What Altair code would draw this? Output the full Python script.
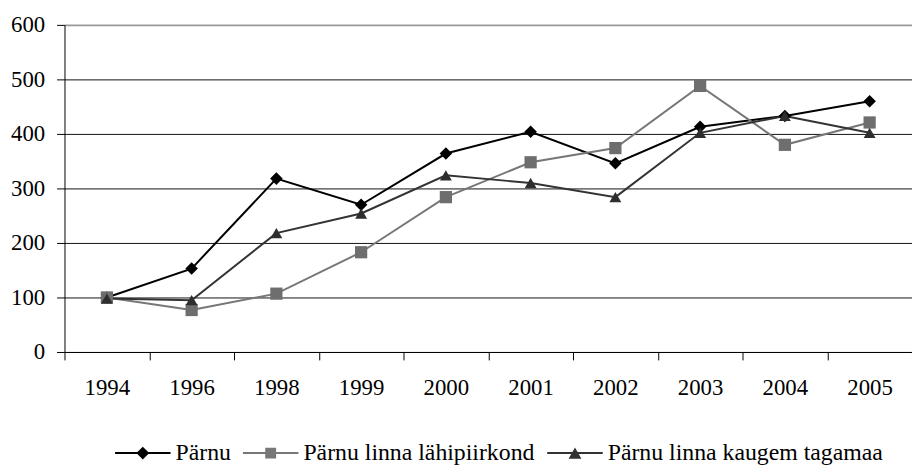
import altair as alt
import pandas as pd

years = ["1994", "1996", "1998", "1999", "2000", "2001", "2002", "2003", "2004", "2005"]
series = ["Pärnu", "Pärnu linna lähipiirkond", "Pärnu linna kaugem tagamaa"]
parnu = [100, 153, 318, 270, 364, 404, 346, 413, 433, 460]
lahipiirkond = [100, 77, 107, 183, 284, 348, 374, 488, 380, 421]
kaugem = [98, 95, 218, 254, 324, 310, 284, 402, 433, 402]
y_ticks = [0, 100, 200, 300, 400, 500, 600]

line_colors = ["#000000", "#777777", "#333333"]
marker_colors = ["#000000", "#6e6e6e", "#2e2e2e"]
marker_shapes = ["diamond", "square", "triangle-up"]
marker_sizes = [160, 144, 200]
legend_line = "M-1,-0.036H1V0.036H-1Z"
legend_shapes = [
    legend_line + "M0,-0.232L0.232,0L0,0.232L-0.232,0Z",
    legend_line + "M-0.196,-0.196H0.196V0.196H-0.196Z",
    legend_line + "M0,-0.2L0.232,0.2H-0.232Z",
]

rows = []
for name, vals in zip(series, [parnu, lahipiirkond, kaugem]):
    for yr, v in zip(years, vals):
        rows.append({"Aasta": yr, "Seeria": name, "Väärtus": v})
df = pd.DataFrame(rows)

FONT = "Liberation Serif"

x_enc = alt.X(
    "Aasta:O",
    sort=years,
    scale=alt.Scale(type="band", paddingInner=0, paddingOuter=0),
    axis=alt.Axis(
        title=None, labelAngle=0, tickBand="extent", grid=False,
        domainColor="black", tickColor="black", tickSize=8,
        labelFont=FONT, labelFontSize=23, labelColor="black", labelPadding=17,
    ),
)
y_enc = alt.Y(
    "Väärtus:Q",
    scale=alt.Scale(domain=[0, 600], nice=False),
    axis=alt.Axis(
        title=None, values=y_ticks, grid=True,
        gridColor={"condition": {"test": "datum.value === 600", "value": "#999999"}, "value": "#111111"},
        gridWidth={"condition": {"test": "datum.value === 600", "value": 2}, "value": 1},
        domainColor="black", tickColor="black", tickSize=8,
        labelFont=FONT, labelFontSize=23, labelColor="black", labelPadding=12,
    ),
)

lines = alt.Chart(df).mark_line(strokeWidth=2).encode(
    x=x_enc,
    y=y_enc,
    color=alt.Color("Seeria:N", scale=alt.Scale(domain=series, range=line_colors), legend=None),
    detail="Seeria:N",
)

points = alt.Chart(df).mark_point(filled=True, opacity=1).encode(
    x=x_enc,
    y=y_enc,
    color=alt.Color("Seeria:N", scale=alt.Scale(domain=series, range=marker_colors), legend=None),
    shape=alt.Shape("Seeria:N", scale=alt.Scale(domain=series, range=marker_shapes), legend=None),
    size=alt.Size("Seeria:N", scale=alt.Scale(domain=series, range=marker_sizes), legend=None),
)

legend_kw = dict(
    title=None, orient="none", direction="horizontal", columns=3,
    legendX=51, legendY=404,
    labelFont=FONT, labelFontSize=24, labelColor="black", labelOffset=5,
    labelLimit=0,
    columnPadding=12, symbolSize=3136, symbolStrokeWidth=0, symbolOpacity=1,
)

legend_layer = alt.Chart(df).transform_filter("false").mark_point(
    filled=True, opacity=1, size=3136
).encode(
    x=x_enc,
    y=y_enc,
    color=alt.Color("Seeria:N", scale=alt.Scale(domain=series, range=line_colors),
                    legend=alt.Legend(**legend_kw)),
    shape=alt.Shape("Seeria:N", scale=alt.Scale(domain=series, range=legend_shapes),
                    legend=alt.Legend(**legend_kw)),
)

chart = alt.layer(lines, points, legend_layer).resolve_scale(
    color="independent", shape="independent", size="independent"
).properties(
    width=855, height=330,
    autosize=alt.AutoSizeParams(type="none"),
    padding={"left": 57, "top": 15, "right": 0, "bottom": 113},
    background="white",
).configure_view(strokeWidth=0)

chart.save("out.html", embed_options={"renderer": "svg", "actions": False})
